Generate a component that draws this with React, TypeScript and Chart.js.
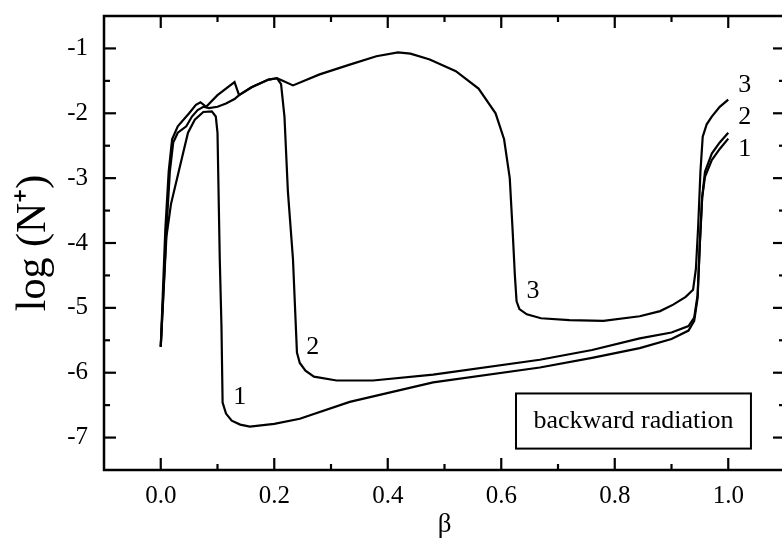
import React, { useEffect, useRef } from "react";
import { Chart, registerables } from "chart.js";

Chart.register(...registerables);

// ---- data ----
const curve1X = [0, 0.01, 0.018, 0.037, 0.048, 0.06, 0.075, 0.09, 0.097, 0.1, 0.104, 0.107, 0.109, 0.115, 0.125, 0.14, 0.157, 0.2, 0.245, 0.333, 0.48, 0.668, 0.76, 0.844, 0.9, 0.93, 0.94, 0.946, 0.95, 0.954, 0.959, 0.971, 0.985, 1.0];
const curve1Y = [-5.6, -3.9, -3.4, -2.7, -2.3, -2.1, -1.98, -1.97, -2.05, -2.3, -4.25, -5.29, -6.46, -6.63, -6.74, -6.8, -6.83, -6.79, -6.71, -6.45, -6.15, -5.92, -5.77, -5.62, -5.48, -5.35, -5.2, -4.85, -4.0, -3.3, -2.98, -2.72, -2.55, -2.39];

const curve2X = [0, 0.01, 0.016, 0.022, 0.03, 0.045, 0.055, 0.065, 0.075, 0.085, 0.1, 0.115, 0.13, 0.138, 0.16, 0.19, 0.205, 0.212, 0.218, 0.224, 0.233, 0.24, 0.245, 0.255, 0.27, 0.31, 0.374, 0.48, 0.668, 0.76, 0.844, 0.9, 0.93, 0.94, 0.946, 0.95, 0.954, 0.959, 0.971, 0.985, 1.0];
const curve2Y = [-5.6, -3.8, -2.9, -2.45, -2.3, -2.2, -2.05, -1.95, -1.9, -1.92, -1.9, -1.85, -1.78, -1.72, -1.6, -1.48, -1.46, -1.55, -2.05, -3.2, -4.25, -5.69, -5.85, -5.97, -6.06, -6.12, -6.12, -6.03, -5.8, -5.65, -5.47, -5.38, -5.28, -5.15, -4.8, -4.0, -3.3, -2.9, -2.62, -2.45, -2.3];

const curve3X = [0, 0.008, 0.014, 0.02, 0.03, 0.05, 0.062, 0.07, 0.08, 0.1, 0.13, 0.138, 0.16, 0.19, 0.205, 0.215, 0.233, 0.28, 0.333, 0.38, 0.418, 0.44, 0.474, 0.52, 0.56, 0.59, 0.605, 0.615, 0.62, 0.624, 0.627, 0.632, 0.645, 0.67, 0.72, 0.78, 0.844, 0.88, 0.903, 0.925, 0.938, 0.943, 0.947, 0.951, 0.955, 0.962, 0.971, 0.985, 1.0];
const curve3Y = [-5.6, -3.8, -2.9, -2.4, -2.2, -2.0, -1.87, -1.83, -1.9, -1.72, -1.52, -1.72, -1.6, -1.48, -1.46, -1.5, -1.57, -1.4, -1.25, -1.12, -1.06, -1.08, -1.17, -1.35, -1.62, -2.0, -2.4, -3.0, -3.8, -4.5, -4.9, -5.02, -5.1, -5.16, -5.19, -5.2, -5.13, -5.05, -4.95, -4.83, -4.72, -4.4, -3.75, -2.9, -2.36, -2.17, -2.05, -1.9, -1.79];

const xTicks = [0, 0.2, 0.4, 0.6, 0.8, 1.0];
const xMinorTicks = [0.1, 0.3, 0.5, 0.7, 0.9];
const yTicks = [-7, -6, -5, -4, -3, -2, -1];
const yMinorTicks = [-6.5, -5.5, -4.5, -3.5, -2.5, -1.5];

const curveNames = ["1", "2", "3"];
const inlineLabelX = [0.139, 0.268, 0.656];
const inlineLabelY = [-6.37, -5.61, -4.75];
const endLabelX = [1.029, 1.029, 1.029];
const endLabelY = [-2.56, -2.06, -1.56];

const legendText = "backward radiation";
const legendBoxX = [0.626, 1.04];
const legendBoxY = [-6.32, -7.17];

const xTitle = "β";
const yTitle = "log (N⁺)";

const FONT = '"Liberation Serif", "Times New Roman", serif';

const framePlugin = {
  id: "framePlugin",
  afterDatasetsDraw(chart: any) {
    const { ctx, chartArea: a, scales } = chart;
    const x = scales.x;
    const y = scales.y;
    ctx.save();
    ctx.strokeStyle = "#000";
    ctx.fillStyle = "#000";
    ctx.lineWidth = 2.5;
    ctx.strokeRect(a.left, a.top, a.right - a.left, a.bottom - a.top);
    ctx.lineWidth = 2.2;
    const seg = (x1: number, y1: number, x2: number, y2: number) => {
      ctx.beginPath();
      ctx.moveTo(x1, y1);
      ctx.lineTo(x2, y2);
      ctx.stroke();
    };
    const xt = (v: number, len: number) => {
      const p = x.getPixelForValue(v);
      seg(p, a.bottom, p, a.bottom - len);
      seg(p, a.top, p, a.top + len);
    };
    const yt = (v: number, len: number) => {
      const p = y.getPixelForValue(v);
      seg(a.left, p, a.left + len, p);
      seg(a.right, p, a.right - len, p);
    };
    xTicks.forEach((v) => xt(v, 12));
    xMinorTicks.forEach((v) => xt(v, 6));
    yTicks.forEach((v) => yt(v, 12));
    yMinorTicks.forEach((v) => yt(v, 6));

    // curve labels
    ctx.font = `26px ${FONT}`;
    ctx.textAlign = "center";
    ctx.textBaseline = "middle";
    curveNames.forEach((n, i) => {
      ctx.fillText(n, x.getPixelForValue(inlineLabelX[i]), y.getPixelForValue(inlineLabelY[i]));
      ctx.fillText(n, x.getPixelForValue(endLabelX[i]), y.getPixelForValue(endLabelY[i]));
    });

    // legend box
    const bx1 = x.getPixelForValue(legendBoxX[0]);
    const bx2 = x.getPixelForValue(legendBoxX[1]);
    const by1 = y.getPixelForValue(legendBoxY[0]);
    const by2 = y.getPixelForValue(legendBoxY[1]);
    ctx.lineWidth = 2;
    ctx.strokeRect(bx1, by1, bx2 - bx1, by2 - by1);
    ctx.fillText(legendText, (bx1 + bx2) / 2, (by1 + by2) / 2);
    ctx.restore();
  },
};

const toPoints = (xs: number[], ys: number[]) => xs.map((v, i) => ({ x: v, y: ys[i] }));

export default function App() {
  const ref = useRef<HTMLCanvasElement | null>(null);
  useEffect(() => {
    if (!ref.current) return;
    const ds = (xs: number[], ys: number[]) => ({
      data: toPoints(xs, ys),
      showLine: true,
      borderColor: "#000",
      borderWidth: 2.2,
      pointRadius: 0,
      tension: 0,
      fill: false,
    });
    const chart = new Chart(ref.current, {
      type: "scatter",
      data: {
        datasets: [ds(curve1X, curve1Y), ds(curve2X, curve2Y), ds(curve3X, curve3Y)],
      },
      options: {
        animation: false,
        responsive: false,
        devicePixelRatio: 1,
        layout: { padding: { left: 0, top: 16, right: 15, bottom: 0 } },
        plugins: { legend: { display: false }, tooltip: { enabled: false } },
        scales: {
          x: {
            type: "linear",
            min: -0.1,
            max: 1.1,
            grid: { display: false, drawTicks: false },
            border: { display: false },
            afterBuildTicks: (s: any) => {
              s.ticks = xTicks.map((v) => ({ value: v }));
            },
            afterFit: (s: any) => {
              s.height = 74;
              s.paddingLeft = 0;
              s.paddingRight = 0;
            },
            ticks: {
              padding: 11,
              color: "#000",
              font: { family: FONT, size: 25 },
              maxRotation: 0,
              autoSkip: false,
              callback: (v: any) => Number(v).toFixed(1),
            },
            title: {
              display: true,
              text: xTitle,
              color: "#000",
              font: { family: FONT, size: 27 },
              padding: { top: 0, bottom: 3 },
            },
          },
          y: {
            type: "linear",
            min: -7.5,
            max: -0.5,
            grid: { display: false, drawTicks: false },
            border: { display: false },
            afterBuildTicks: (s: any) => {
              s.ticks = yTicks.map((v) => ({ value: v }));
            },
            afterFit: (s: any) => {
              s.width = 104;
              s.paddingTop = 0;
              s.paddingBottom = 0;
            },
            ticks: {
              padding: 16,
              color: "#000",
              font: { family: FONT, size: 25 },
              autoSkip: false,
              callback: (v: any) => String(v),
            },
            title: {
              display: true,
              text: yTitle,
              color: "#000",
              font: { family: FONT, size: 42 },
              padding: { top: 9, bottom: 0 },
            },
          },
        },
      },
      plugins: [framePlugin],
    });
    return () => chart.destroy();
  }, []);
  return (
    <div style={{ position: "fixed", left: 0, top: 0, width: 782, height: 544, overflow: "hidden", background: "#fff" }}>
      <canvas ref={ref} width={800} height={544} style={{ display: "block", width: 800, height: 544 }} />
    </div>
  );
}
